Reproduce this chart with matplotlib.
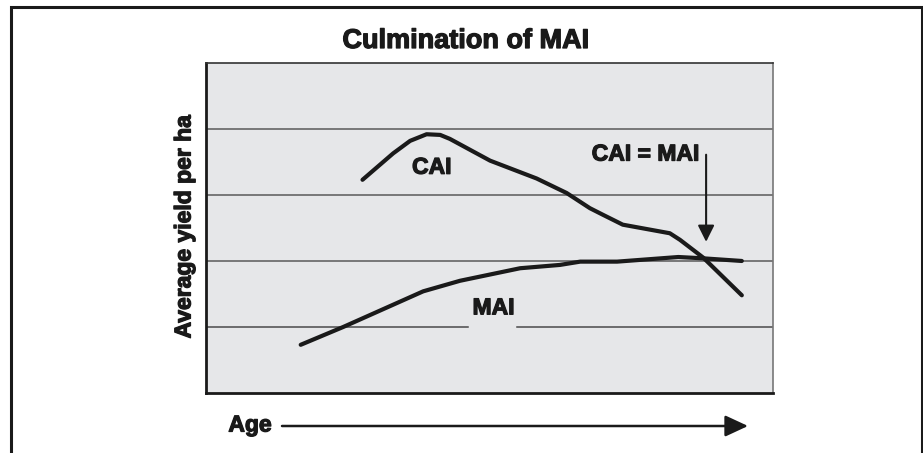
import matplotlib.pyplot as plt
from matplotlib.patches import Rectangle, FancyArrowPatch
import matplotlib.patheffects as pe

plt.rcParams['font.family'] = ['Liberation Sans', 'DejaVu Sans']
plt.rcParams['font.weight'] = 'bold'

# Current annual increment (CAI) and mean annual increment (MAI) over age
cai_age = [2.76, 3.30, 3.60, 3.89, 4.13, 4.30, 5.01, 5.83, 6.36, 6.77, 7.00, 7.35, 8.18, 8.36, 8.77, 9.45]
cai_yield = [3.23, 3.63, 3.82, 3.92, 3.91, 3.85, 3.52, 3.25, 3.03, 2.80, 2.70, 2.55, 2.42, 2.32, 2.05, 1.48]
mai_age = [1.67, 2.42, 3.83, 4.48, 5.54, 6.24, 6.60, 7.25, 8.33, 8.77, 9.45]
mai_yield = [0.73, 1.00, 1.54, 1.70, 1.89, 1.94, 1.99, 1.99, 2.06, 2.04, 2.00]
grid_levels = [1, 2, 3, 4]
culmination_age = 8.82

ink = '#1a1a1a'
heavy = [pe.withStroke(linewidth=0.9, foreground=ink)]

fig = plt.figure(figsize=(9.23, 4.53), dpi=100)
ax = fig.add_axes([0.2232, 0.1325, 0.6143, 0.7285])
ax.set_facecolor('#e6e7e9')
ax.set_xlim(0, 10)
ax.set_ylim(0, 5)
ax.set_xticks([])
ax.set_yticks([])

for s in ['left', 'bottom']:
    ax.spines[s].set_linewidth(2)
    ax.spines[s].set_color(ink)
ax.spines['top'].set_linewidth(1.2)
ax.spines['top'].set_color('#333333')
ax.spines['right'].set_linewidth(1.2)
ax.spines['right'].set_color('#777777')

# horizontal guide lines; the lowest one leaves room for the MAI label
for lvl in grid_levels:
    if lvl == 1:
        ax.plot([0, 4.62], [lvl, lvl], color='#4a4a4a', lw=1.1, zorder=1)
        ax.plot([5.49, 10], [lvl, lvl], color='#4a4a4a', lw=1.1, zorder=1)
    else:
        ax.axhline(lvl, color='#5a5a5a', lw=1.1, zorder=1)

ax.plot(mai_age, mai_yield, color=ink, lw=3, solid_capstyle='round',
        solid_joinstyle='round', zorder=3)
ax.plot(cai_age, cai_yield, color=ink, lw=3, solid_capstyle='round',
        solid_joinstyle='round', zorder=3)

label_kw = dict(fontsize=16.5, fontweight='bold', color=ink, ha='center',
                va='center', path_effects=heavy)
ax.text(3.98, 3.42, 'CAI', **label_kw)
ax.text(5.07, 1.29, 'MAI', **label_kw)
ax.text(7.75, 3.62, 'CAI = MAI', **label_kw)
ax.annotate('', xy=(culmination_age, 2.29), xytext=(culmination_age, 3.61),
            arrowprops=dict(arrowstyle='-|>,head_length=1.0,head_width=0.5',
                            color=ink, lw=1.5, shrinkA=0, shrinkB=0))

fig.text(466 / 923, 1 - 41 / 453, 'Culmination of MAI', fontsize=19.5,
         fontweight='bold', color=ink, ha='center', va='center',
         path_effects=heavy)
fig.text(184 / 923, 1 - 227 / 453, 'Average yield per ha', fontsize=16.5,
         fontweight='bold', color=ink, ha='center', va='center',
         rotation=90, path_effects=heavy)

# age axis drawn as a long arrow below the plot
fig.text(250 / 923, 1 - 425 / 453, 'Age', **label_kw)
fig.patches.append(FancyArrowPatch(
    (282 / 923, 1 - 426 / 453), (748 / 923, 1 - 426 / 453),
    transform=fig.transFigure, arrowstyle='-|>,head_length=14,head_width=6.5',
    color=ink, lw=1.8, mutation_scale=1, shrinkA=0, shrinkB=0))

# outer frame, open at the bottom edge
frame = Rectangle((10.5 / 923, -0.1), 911 / 923, 1.1 - 7.5 / 453,
                  transform=fig.transFigure, fill=False, lw=2.2,
                  edgecolor=ink, clip_on=False)
fig.patches.append(frame)

fig.savefig('out.png', dpi=100, facecolor='white')
